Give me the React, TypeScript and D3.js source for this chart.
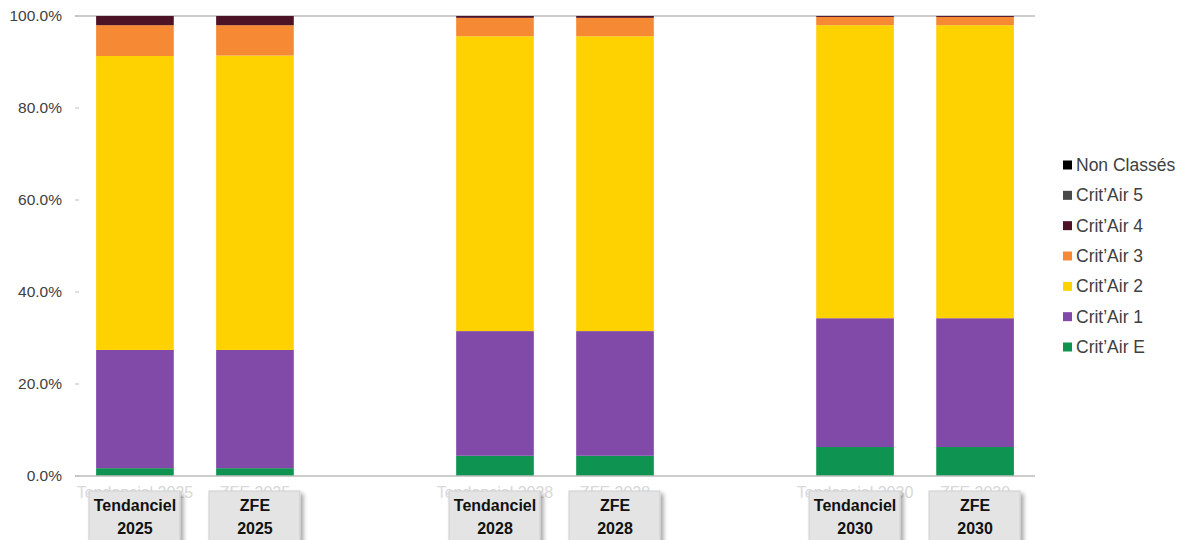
import React from "react";
import * as d3 from "d3";

const categories = ["Tendanciel 2025", "ZFE 2025", "", "Tendanciel 2028", "ZFE 2028", "", "Tendanciel 2030", "ZFE 2030"];
const scenarioLabels = ["Tendanciel", "ZFE", "", "Tendanciel", "ZFE", "", "Tendanciel", "ZFE"];
const yearLabels = ["2025", "2025", "", "2028", "2028", "", "2030", "2030"];

const seriesNames = ["Crit'Air E", "Crit'Air 1", "Crit'Air 2", "Crit'Air 3", "Crit'Air 4", "Crit'Air 5", "Non Classés"];
const critE = [1.7, 1.7, 0, 4.4, 4.4, 0, 6.3, 6.3];
const crit1 = [25.7, 25.7, 0, 27.1, 27.1, 0, 28.0, 28.0];
const crit2 = [63.9, 64.0, 0, 64.1, 64.1, 0, 63.7, 63.7];
const crit3 = [6.7, 6.6, 0, 4.0, 4.0, 0, 1.8, 1.8];
const crit4 = [2.0, 2.0, 0, 0.4, 0.4, 0, 0.2, 0.2];
const crit5 = [0, 0, 0, 0, 0, 0, 0, 0];
const nonClasses = [0, 0, 0, 0, 0, 0, 0, 0];
const seriesValues = [critE, crit1, crit2, crit3, crit4, crit5, nonClasses];
const colors = ["#0e9450", "#8149a8", "#fdd200", "#f68a34", "#4c1226", "#4a4a4a", "#000000"];
const yTicks = [0, 20, 40, 60, 80, 100];

export default function App() {
  const left = 75, right = 1035, top = 16, bottom = 476;
  const x = d3.scaleBand<number>().domain(d3.range(categories.length)).range([left, right]).paddingInner(0.353).paddingOuter(0.176);
  const y = d3.scaleLinear().domain([0, 100]).range([bottom, top]);

  const rows = categories.map((c, i) => {
    const r: any = { idx: i };
    seriesNames.forEach((s, k) => (r[s] = seriesValues[k][i]));
    return r;
  });
  const stacked = d3.stack<any>().keys(seriesNames)(rows);

  const font = "Arial, 'Liberation Sans', sans-serif";
  const legendY = d3.scaleLinear().domain([0, 6]).range([165, 347]);

  return (
    <svg width={1185} height={540} style={{ position: "absolute", left: 0, top: 0 }} fontFamily={font}>
      <defs>
        <filter id="sh" x="-10%" y="-10%" width="130%" height="140%">
          <feDropShadow dx="3" dy="3" stdDeviation="2" floodColor="#000" floodOpacity="0.35" />
        </filter>
      </defs>
      <rect width={1185} height={540} fill="#fff" />
      <line x1={left} x2={right} y1={y(100)} y2={y(100)} stroke="#bdbdbd" strokeWidth={1.5} />
      {stacked.map((layer, k) => (
        <g key={k} fill={colors[k]}>
          {layer.map((d, i) =>
            categories[i] && d[1] - d[0] > 0 ? (
              <rect key={i} x={x(i)} width={x.bandwidth()} y={y(d[1])} height={y(d[0]) - y(d[1])} />
            ) : null
          )}
        </g>
      ))}
      <line x1={left} x2={right} y1={bottom} y2={bottom} stroke="#bdbdbd" strokeWidth={1.5} />
      {yTicks.map((t) => (
        <g key={t}>
          <line x1={left} x2={left + 4} y1={y(t)} y2={y(t)} stroke="#bdbdbd" />
          <text x={62} y={y(t)} dy="0.35em" textAnchor="end" fontSize={15.5} fill="#404040">
            {d3.format(".1f")(t) + "%"}
          </text>
        </g>
      ))}
      {categories.map((c, i) =>
        c ? (
          <g key={i}>
            <text x={x(i)! + x.bandwidth() / 2} y={492} dy="0.35em" textAnchor="middle" fontSize={16} fill="#d9d9d9">
              {c}
            </text>
            <rect x={x(i)! + x.bandwidth() / 2 - 46} y={491} width={91} height={60} fill="#e4e4e4" stroke="#cfcfcf" filter="url(#sh)" />
            <text x={x(i)! + x.bandwidth() / 2} y={505} dy="0.35em" textAnchor="middle" fontSize={16} fontWeight="bold" fill="#111">
              {scenarioLabels[i]}
            </text>
            <text x={x(i)! + x.bandwidth() / 2} y={528} dy="0.35em" textAnchor="middle" fontSize={16} fontWeight="bold" fill="#111">
              {yearLabels[i]}
            </text>
          </g>
        ) : null
      )}
      {seriesNames
        .map((s, k) => ({ s, k }))
        .reverse()
        .map(({ s, k }, j) => (
          <g key={s}>
            <rect x={1063} y={legendY(j) - 4.5} width={9} height={9} fill={colors[k]} />
            <text x={1076} y={legendY(j)} dy="0.35em" fontSize={17.5} fill="#404040">
              {s.replace("'", "’")}
            </text>
          </g>
        ))}
    </svg>
  );
}
